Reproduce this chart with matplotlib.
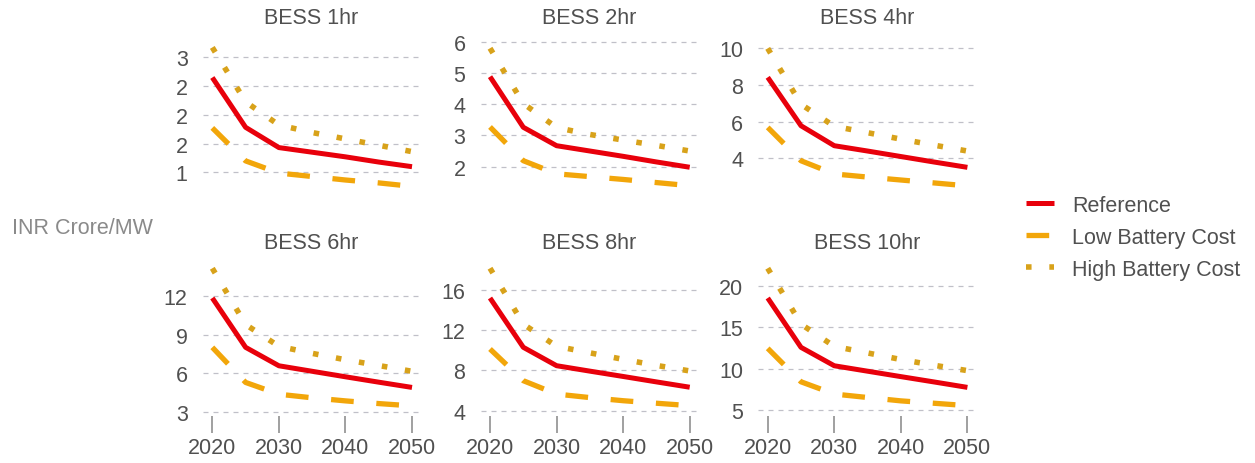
import matplotlib
matplotlib.use("Agg")

import matplotlib.pyplot as plt
from matplotlib.ticker import FixedLocator, FormatStrFormatter
from matplotlib.lines import Line2D

plt.rcParams['font.family'] = ['Liberation Sans', 'DejaVu Sans']

YEARS = [2020, 2025, 2030, 2035, 2040, 2045, 2050]
TITLES = ['BESS 1hr', 'BESS 2hr', 'BESS 4hr', 'BESS 6hr', 'BESS 8hr', 'BESS 10hr']

# capital cost, INR Crore/MW
REFERENCE = [
    [2.64, 1.78, 1.43, 1.35, 1.27, 1.18, 1.10],
    [4.88, 3.26, 2.67, 2.50, 2.33, 2.15, 1.98],
    [8.42, 5.78, 4.69, 4.40, 4.10, 3.80, 3.51],
    [11.87, 8.02, 6.58, 6.15, 5.72, 5.30, 4.89],
    [15.2, 10.3, 8.47, 7.93, 7.40, 6.86, 6.33],
    [18.58, 12.58, 10.34, 9.68, 9.02, 8.37, 7.71],
]
LOW_COST = [
    [1.77, 1.20, 0.99, 0.93, 0.87, 0.82, 0.76],
    [3.27, 2.19, 1.77, 1.68, 1.59, 1.49, 1.39],
    [5.69, 3.87, 3.15, 2.98, 2.82, 2.66, 2.50],
    [8.02, 5.28, 4.36, 4.08, 3.84, 3.63, 3.45],
    [10.13, 6.98, 5.65, 5.30, 4.99, 4.74, 4.50],
    [12.46, 8.39, 6.90, 6.48, 6.07, 5.78, 5.49],
]
HIGH_COST = [
    [3.16, 2.22, 1.82, 1.69, 1.58, 1.47, 1.36],
    [5.79, 4.02, 3.25, 3.03, 2.85, 2.68, 2.50],
    [10.0, 6.95, 5.75, 5.40, 5.05, 4.72, 4.40],
    [14.19, 9.80, 8.10, 7.55, 7.05, 6.60, 6.15],
    [18.16, 12.60, 10.40, 9.75, 9.10, 8.50, 7.95],
    [22.2, 15.40, 12.70, 11.90, 11.10, 10.40, 9.75],
]
Y_TICKS = [
    [1.0, 1.5, 2.0, 2.5, 3.0],
    [2, 3, 4, 5, 6],
    [4, 6, 8, 10],
    [3, 6, 9, 12],
    [4, 8, 12, 16],
    [5, 10, 15, 20],
]
Y_LIMS = [(0.68, 3.34), (1.22, 6.15), (2.22, 10.62),
          (2.66, 14.68), (3.47, 18.78), (4.23, 22.96)]
X_TICKS = [2020, 2030, 2040, 2050]

RED = '#e8000b'
LOW_COL = '#f2a60a'
HIGH_COL = '#d8a21a'
TEXT = '#505050'
GRID = '#c0c0c8'

W, H = 1255, 464
fig = plt.figure(figsize=(W / 100, H / 100), dpi=100)

lefts = [203, 480.7, 758.4]
ax_w = 217
tops = [38, 263]
ax_h = 154

ref_style = dict(color=RED, lw=3.6, solid_capstyle='butt')
low_style = dict(color=LOW_COL, lw=3.8, dashes=(4.3, 4.3), dash_capstyle='butt')
high_style = dict(color=HIGH_COL, lw=4.0, dashes=(1, 3.2), dash_capstyle='butt')

for i in range(6):
    row, col = divmod(i, 3)
    ax = fig.add_axes([lefts[col] / W, 1 - (tops[row] + ax_h) / H, ax_w / W, ax_h / H])
    ax.plot(YEARS, REFERENCE[i], zorder=3, **ref_style)
    ax.plot(YEARS, LOW_COST[i], zorder=2, **low_style)
    ax.plot(YEARS, HIGH_COST[i], zorder=2, **high_style)

    ax.set_xlim(2018.6, 2051.2)
    ax.set_ylim(*Y_LIMS[i])
    ax.yaxis.set_major_locator(FixedLocator(Y_TICKS[i]))
    ax.yaxis.set_major_formatter(FormatStrFormatter('%.0f'))
    ax.grid(axis='y', color=GRID, lw=0.9, linestyle=(0, (4, 4)))
    ax.set_axisbelow(True)
    for s in ax.spines.values():
        s.set_visible(False)
    ax.tick_params(axis='y', length=0, pad=11, labelsize=15.5, labelcolor=TEXT)
    if row == 1:
        ax.set_xticks(X_TICKS)
        ax.tick_params(axis='x', length=12, width=1.4, color='#a0a0a0',
                       pad=3, labelsize=15.5, labelcolor=TEXT)
    else:
        ax.set_xticks([])
    ax.set_title(TITLES[i], fontsize=15.5, color=TEXT, pad=10)

fig.text(12 / W, 1 - 228 / H, 'INR Crore/MW', fontsize=15.5, color='#8a8a8a',
         ha='left', va='center')

handles = [
    Line2D([], [], **ref_style),
    Line2D([], [], **low_style),
    Line2D([], [], **high_style),
]
fig.legend(handles, ['Reference', 'Low Battery Cost', 'High Battery Cost'],
           loc='upper left', bbox_to_anchor=(1026 / W, 1 - 196 / H),
           frameon=False, fontsize=15.5, labelcolor=TEXT, borderpad=0,
           borderaxespad=0, handlelength=1.3, handletextpad=0.85,
           labelspacing=0.5)

fig.savefig('out.png', dpi=100, facecolor='white')
